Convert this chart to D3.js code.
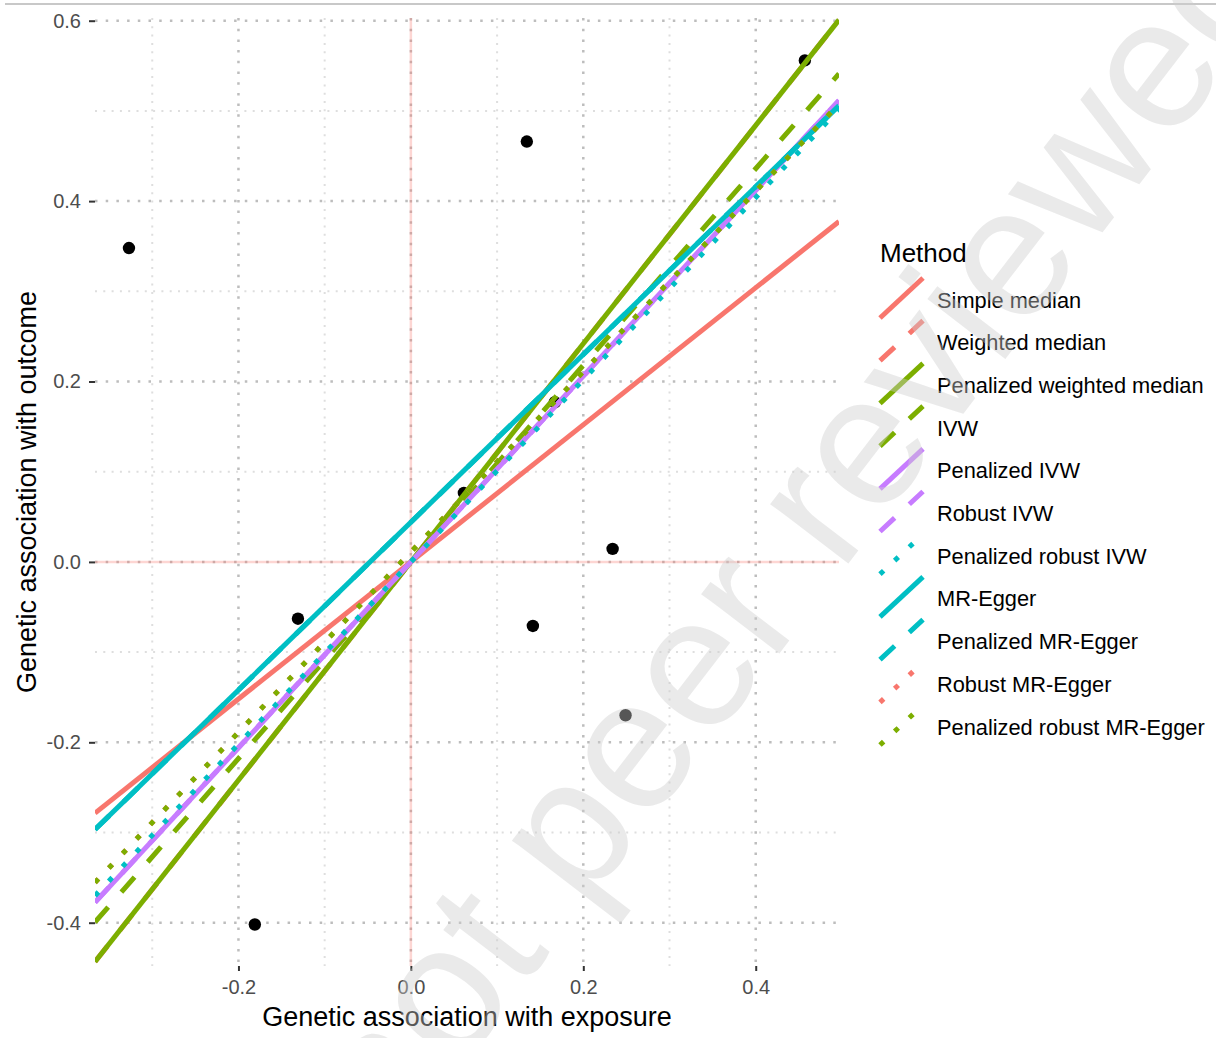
<!DOCTYPE html>
<html>
<head>
<meta charset="utf-8">
<script src="https://cdn.jsdelivr.net/npm/d3@7"></script>
<style>
  body { margin: 0; background: #fff; }
  svg { display: block; font-family: "Liberation Sans", Arial, Helvetica, sans-serif; }
</style>
</head>
<body>
<svg id="chart" width="1216" height="1038"></svg>
<script>
// genetic variants: association with exposure (x) and outcome (y)
const exposure = [-0.327, 0.1345, 0.457, -0.131, -0.181, 0.234, 0.1415, 0.249, 0.0615, 0.167];
const outcome  = [0.348, 0.466, 0.556, -0.063, -0.402, 0.0144, -0.071, -0.170, 0.0765, 0.177];

// estimation methods, drawn in this order
const methods = ['Simple median', 'Weighted median', 'Penalized weighted median', 'IVW',
  'Penalized IVW', 'Robust IVW', 'Penalized robust IVW', 'MR-Egger', 'Penalized MR-Egger',
  'Robust MR-Egger', 'Penalized robust MR-Egger'];
const slopes     = [0.76, 1.21, 1.21, 1.09, 1.03, 1.03, 1.01, 0.93, 0.93, 1.00, 1.00];
const intercepts = [0, 0, 0, 0, 0, 0, 0, 0.044, 0.044, 0.011, 0.011];
const methodColors = ['#F8766D', '#F8766D', '#7CAE00', '#7CAE00', '#C77CFF', '#C77CFF',
  '#00BFC4', '#00BFC4', '#00BFC4', '#F8766D', '#7CAE00'];
const methodLinetypes = ['solid', 'dashed', 'solid', 'dashed', 'solid', 'dashed',
  'dotted', 'solid', 'dashed', 'dotted', 'dotted'];

// axis ticks
const xTicks = [-0.2, 0.0, 0.2, 0.4];
const yTicks = [-0.4, -0.2, 0.0, 0.2, 0.4, 0.6];
const xMinor = [-0.3, -0.1, 0.1, 0.3];
const yMinor = [-0.3, -0.1, 0.1, 0.3, 0.5];

const svg = d3.select('#chart');

// panel box and scales
const panel = { left: 95, right: 839, top: 18, bottom: 966 };
const xDomain = [-0.3664, 0.4966];
const yDomain = [-0.448, 0.603];
const x = d3.scaleLinear().domain(xDomain).range([panel.left, panel.right]);
const y = d3.scaleLinear().domain(yDomain).range([panel.bottom, panel.top]);

const lwd = 5;
const dashFor = (lt) => lt === 'dashed' ? (4 * lwd) + ',' + (4 * lwd)
  : lt === 'dotted' ? lwd + ',' + (3 * lwd) : null;

// thin grey bar across the top of the page
svg.append('rect').attr('x', 5).attr('y', 3).attr('width', 1211).attr('height', 2).attr('fill', '#c8c8c8');

svg.append('clipPath').attr('id', 'clip')
  .append('rect')
  .attr('x', panel.left).attr('y', panel.top)
  .attr('width', panel.right - panel.left).attr('height', panel.bottom - panel.top);

const grid = svg.append('g');
// minor grid
grid.selectAll('.hmin').data(yMinor).enter().append('line')
  .attr('x1', panel.left).attr('x2', panel.right)
  .attr('y1', d => y(d)).attr('y2', d => y(d))
  .attr('stroke', '#dedede').attr('stroke-width', 2).attr('stroke-dasharray', '2,6.3');
grid.selectAll('.vmin').data(xMinor).enter().append('line')
  .attr('y1', panel.top).attr('y2', panel.bottom)
  .attr('x1', d => x(d)).attr('x2', d => x(d))
  .attr('stroke', '#dedede').attr('stroke-width', 2).attr('stroke-dasharray', '2,6.3');
// major grid
grid.selectAll('.hmaj').data(yTicks).enter().append('line')
  .attr('x1', panel.left).attr('x2', panel.right)
  .attr('y1', d => y(d)).attr('y2', d => y(d))
  .attr('stroke', '#bdbdbd').attr('stroke-width', 2.5).attr('stroke-dasharray', '2.5,8.2');
grid.selectAll('.vmaj').data(xTicks).enter().append('line')
  .attr('y1', panel.top).attr('y2', panel.bottom)
  .attr('x1', d => x(d)).attr('x2', d => x(d))
  .attr('stroke', '#bdbdbd').attr('stroke-width', 2.5).attr('stroke-dasharray', '2.5,8.2');

// pink reference lines at zero
const ref = svg.append('g').attr('clip-path', 'url(#clip)');
ref.append('line')
  .attr('x1', panel.left).attr('x2', panel.right).attr('y1', y(0)).attr('y2', y(0))
  .attr('stroke', '#F8766D').attr('stroke-opacity', 0.3).attr('stroke-width', 2.5);
ref.append('line')
  .attr('x1', x(0)).attr('x2', x(0)).attr('y1', panel.top).attr('y2', panel.bottom)
  .attr('stroke', '#F8766D').attr('stroke-opacity', 0.3).attr('stroke-width', 2.5);

// the points
svg.append('g').selectAll('circle')
  .data(exposure.map((d, i) => [d, outcome[i]]))
  .enter().append('circle')
  .attr('cx', d => x(d[0])).attr('cy', d => y(d[1])).attr('r', 6.2)
  .attr('fill', '#000');

// one abline per method
svg.append('g').attr('clip-path', 'url(#clip)')
  .selectAll('line')
  .data(methods.map((m, i) => i))
  .enter().append('line')
  .attr('x1', x(xDomain[0])).attr('x2', x(xDomain[1]))
  .attr('y1', i => y(intercepts[i] + slopes[i] * xDomain[0]))
  .attr('y2', i => y(intercepts[i] + slopes[i] * xDomain[1]))
  .attr('stroke', i => methodColors[i])
  .attr('stroke-width', lwd)
  .attr('stroke-dasharray', i => dashFor(methodLinetypes[i]));

// axes
const xAxis = svg.append('g')
  .attr('transform', 'translate(0,' + panel.bottom + ')')
  .call(d3.axisBottom(x).tickValues(xTicks).tickSize(5).tickPadding(9).tickFormat(d3.format('.1f')));
const yAxis = svg.append('g')
  .attr('transform', 'translate(' + panel.left + ',0)')
  .call(d3.axisLeft(y).tickValues(yTicks).tickSize(6).tickPadding(8).tickFormat(d3.format('.1f')));
[xAxis, yAxis].forEach(a => {
  a.select('.domain').remove();
  a.selectAll('.tick line').attr('stroke', '#333').attr('stroke-width', 2);
  a.selectAll('.tick text').attr('fill', '#4d4d4d').attr('font-size', 20)
    .attr('font-family', '"Liberation Sans", Arial, sans-serif');
});
// d3 uses a unicode minus, R prints a hyphen
yAxis.selectAll('.tick text').text(d => d3.format('.1f')(d).replace('\u2212', '-'));
xAxis.selectAll('.tick text').text(d => d3.format('.1f')(d).replace('\u2212', '-'));

// axis titles
svg.append('text')
  .attr('x', (x(xDomain[0]) + x(xDomain[1])) / 2).attr('y', 1026)
  .attr('text-anchor', 'middle').attr('font-size', 27).attr('fill', '#000')
  .text('Genetic association with exposure');
svg.append('text')
  .attr('transform', 'translate(36,' + ((panel.top + panel.bottom) / 2) + ') rotate(-90)')
  .attr('text-anchor', 'middle').attr('font-size', 27).attr('fill', '#000')
  .text('Genetic association with outcome');

// legend
const legend = svg.append('g').attr('transform', 'translate(880,0)');
legend.append('text').attr('x', 0).attr('y', 262).attr('font-size', 26).attr('fill', '#000').text('Method');
const rowY = (i) => 300 + i * 42.7;
const keys = legend.selectAll('.key').data(methods.map((m, i) => i)).enter().append('g');
keys.append('line')
  .attr('x1', 0).attr('y1', i => rowY(i) + 18)
  .attr('x2', 43).attr('y2', i => rowY(i) - 22)
  .attr('stroke', i => methodColors[i]).attr('stroke-width', lwd)
  .attr('stroke-dasharray', i => dashFor(methodLinetypes[i]));
keys.append('text')
  .attr('x', 57).attr('y', i => rowY(i) + 7.5)
  .attr('font-size', 21.8).attr('fill', '#000')
  .text(i => methods[i]);

// preprint watermark over everything
svg.append('text')
  .attr('transform', 'translate(792,530) rotate(-52.5)')
  .attr('text-anchor', 'middle').attr('dy', '0.35em')
  .attr('font-size', 186).attr('fill', 'rgb(205,205,205)').attr('fill-opacity', 0.42)
  .text('not peer reviewed');
</script>
</body>
</html>
